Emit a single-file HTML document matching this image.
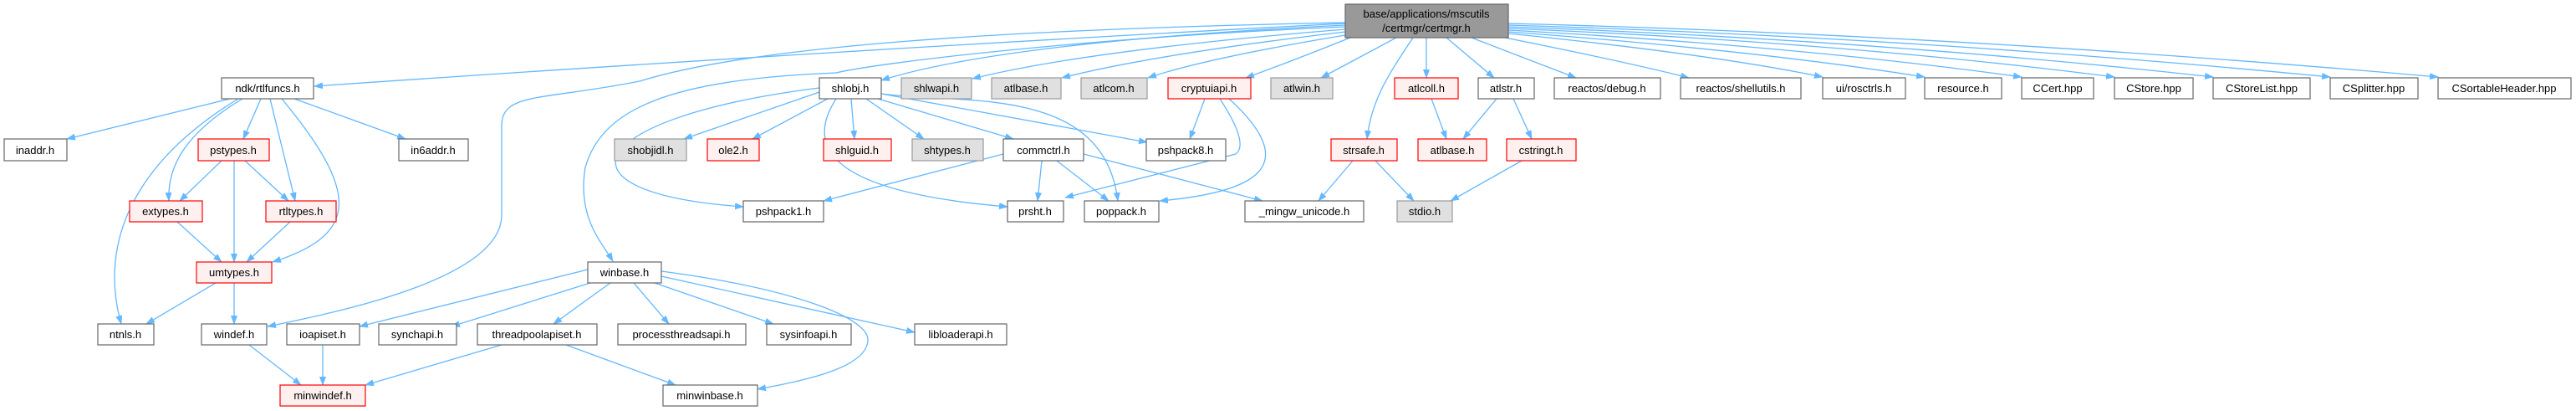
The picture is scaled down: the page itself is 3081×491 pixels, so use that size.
<!DOCTYPE html>
<html><head><meta charset="utf-8"><style>
html,body{margin:0;padding:0;background:#fff;}
svg{display:block;}
text{font-family:"Liberation Sans",sans-serif;font-size:13px;fill:#000;text-anchor:middle;}
.n{fill:#fff;stroke:#666;stroke-width:1.2}
.g{fill:#e0e0e0;stroke:#999;stroke-width:1.2}
.r{fill:#fff0f0;stroke:#f00;stroke-width:1.2}
.rt{fill:#999;stroke:#666;stroke-width:1.2}
path{fill:none;stroke:#63b8ff;stroke-width:1.3;marker-end:url(#a)}
</style></head><body>
<svg width="3081" height="491" viewBox="0 0 3081 491" xmlns="http://www.w3.org/2000/svg">
<defs><marker id="a" markerWidth="11" markerHeight="8" refX="10" refY="4" orient="auto" markerUnits="userSpaceOnUse"><polygon points="0,0 11,4 0,8" fill="#63b8ff"/></marker></defs>
<!-- root edges -->
<path d="M1609,28 Q1000,60 376,103"/>
<path d="M1609,27 C1200,35 900,55 765,97 C650,120 600,110 600,150 L600,257 C600,330 420,370 320,390"/>
<path d="M1609,32 C1300,45 1050,75 1000,87 C800,95 720,130 700,200 C690,260 720,290 733,312"/>
<path d="M1609,30 Q1200,50 1054,96"/>
<path d="M1609,35 Q1300,60 1163,94"/>
<path d="M1609,38 Q1380,65 1270,93"/>
<path d="M1609,42 Q1440,70 1373,93"/>
<path d="M1615,45 Q1540,75 1490,93"/>
<path d="M1670,45 L1580,93"/>
<path d="M1690,45 C1660,90 1640,120 1635,166"/>
<path d="M1706,45 L1706,93"/>
<path d="M1730,45 L1787,93"/>
<path d="M1760,45 L1885,93"/>
<path d="M1800,45 Q1950,75 2020,93"/>
<path d="M1804,40 Q2050,65 2180,92"/>
<path d="M1804,38 Q2100,60 2302,92"/>
<path d="M1804,36 Q2150,55 2418,92"/>
<path d="M1804,34 Q2200,50 2529,92"/>
<path d="M1804,32 Q2250,48 2647,92"/>
<path d="M1804,30 Q2300,45 2787,92"/>
<path d="M1804,28 Q2350,42 2916,92"/>
<!-- ndk -->
<path d="M275,118 L80,166"/>
<path d="M312,118 L291,166"/>
<path d="M323,118 L353,240"/>
<path d="M352,118 L485,166"/>
<path d="M290,118 C220,160 200,200 202,240"/>
<path d="M337,118 C430,230 430,280 326,313"/>
<path d="M285,118 C150,200 120,300 145,387"/>
<path d="M265,192 L215,240"/>
<path d="M280,192 L280,313"/>
<path d="M293,192 L345,240"/>
<path d="M212,265 L265,313"/>
<path d="M347,265 L295,313"/>
<path d="M258,338 L175,387"/>
<path d="M280,338 L280,387"/>
<path d="M298,412 L360,460"/>
<path d="M386,412 L386,460"/>
<path d="M600,412 L437,460"/>
<path d="M677,412 L808,460"/>
<!-- winbase -->
<path d="M703,322 L430,390"/>
<path d="M706,338 L540,390"/>
<path d="M730,338 L662,387"/>
<path d="M758,338 L800,387"/>
<path d="M783,338 L925,387"/>
<path d="M791,330 L1094,397"/>
<path d="M791,324 C950,345 1040,380 1038,407 C1036,440 960,455 906,465"/>
<!-- shlobj -->
<path d="M980,110 L818,166"/>
<path d="M990,118 L900,166"/>
<path d="M1018,118 L1022,166"/>
<path d="M1036,118 L1105,166"/>
<path d="M1050,118 L1212,166"/>
<path d="M1054,112 L1372,170"/>
<path d="M1054,112 C1150,125 1320,100 1337,240"/>
<path d="M980,105 C700,140 650,230 889,247"/>
<path d="M1000,118 C960,180 1000,230 1205,247"/>
<path d="M1200,184 L985,240"/>
<path d="M1246,192 L1241,240"/>
<path d="M1264,192 L1326,240"/>
<path d="M1296,184 L1510,240"/>
<path d="M1441,118 L1423,166"/>
<path d="M1459,118 C1480,150 1490,175 1478,184 L1274,236"/>
<path d="M1470,118 C1560,200 1500,230 1387,240"/>
<path d="M1712,118 L1730,166"/>
<path d="M1790,118 L1750,166"/>
<path d="M1810,118 L1832,166"/>
<path d="M1618,192 L1577,240"/>
<path d="M1645,192 L1691,240"/>
<path d="M1820,192 L1735,240"/>
<!-- nodes -->
<rect class="rt" x="1609" y="5" width="195" height="40"/><text x="1706" y="21">base/applications/mscutils</text><text x="1706" y="38">/certmgr/certmgr.h</text>
<g>
<rect class="n" x="265" y="93" width="110" height="25"/><text x="320" y="110">ndk/rtlfuncs.h</text>
<rect class="n" x="980" y="93" width="74" height="25"/><text x="1017" y="110">shlobj.h</text>
<rect class="g" x="1078" y="93" width="84" height="25"/><text x="1120" y="110">shlwapi.h</text>
<rect class="g" x="1186" y="93" width="83" height="25"/><text x="1227" y="110">atlbase.h</text>
<rect class="g" x="1293" y="93" width="79" height="25"/><text x="1332" y="110">atlcom.h</text>
<rect class="r" x="1397" y="93" width="99" height="25"/><text x="1446" y="110">cryptuiapi.h</text>
<rect class="g" x="1520" y="93" width="74" height="25"/><text x="1557" y="110">atlwin.h</text>
<rect class="r" x="1668" y="93" width="76" height="25"/><text x="1706" y="110">atlcoll.h</text>
<rect class="n" x="1768" y="93" width="67" height="25"/><text x="1801" y="110">atlstr.h</text>
<rect class="n" x="1859" y="93" width="127" height="25"/><text x="1922" y="110">reactos/debug.h</text>
<rect class="n" x="2010" y="93" width="144" height="25"/><text x="2082" y="110">reactos/shellutils.h</text>
<rect class="n" x="2180" y="93" width="99" height="25"/><text x="2229" y="110">ui/rosctrls.h</text>
<rect class="n" x="2302" y="93" width="92" height="25"/><text x="2348" y="110">resource.h</text>
<rect class="n" x="2418" y="93" width="86" height="25"/><text x="2461" y="110">CCert.hpp</text>
<rect class="n" x="2529" y="93" width="94" height="25"/><text x="2576" y="110">CStore.hpp</text>
<rect class="n" x="2647" y="93" width="116" height="25"/><text x="2705" y="110">CStoreList.hpp</text>
<rect class="n" x="2787" y="93" width="105" height="25"/><text x="2839" y="110">CSplitter.hpp</text>
<rect class="n" x="2916" y="93" width="159" height="25"/><text x="2995" y="110">CSortableHeader.hpp</text>

<rect class="n" x="5" y="166" width="75" height="26"/><text x="42" y="184">inaddr.h</text>
<rect class="r" x="237" y="166" width="85" height="26"/><text x="279" y="184">pstypes.h</text>
<rect class="n" x="477" y="166" width="83" height="26"/><text x="518" y="184">in6addr.h</text>
<rect class="g" x="735" y="166" width="86" height="26"/><text x="778" y="184">shobjidl.h</text>
<rect class="r" x="846" y="166" width="62" height="26"/><text x="877" y="184">ole2.h</text>
<rect class="r" x="985" y="166" width="81" height="26"/><text x="1025" y="184">shlguid.h</text>
<rect class="g" x="1091" y="166" width="85" height="26"/><text x="1133" y="184">shtypes.h</text>
<rect class="n" x="1200" y="166" width="96" height="26"/><text x="1248" y="184">commctrl.h</text>
<rect class="n" x="1371" y="166" width="95" height="26"/><text x="1418" y="184">pshpack8.h</text>
<rect class="r" x="1592" y="166" width="79" height="26"/><text x="1631" y="184">strsafe.h</text>
<rect class="r" x="1696" y="166" width="82" height="26"/><text x="1737" y="184">atlbase.h</text>
<rect class="r" x="1802" y="166" width="83" height="26"/><text x="1843" y="184">cstringt.h</text>

<rect class="r" x="155" y="240" width="87" height="25"/><text x="198" y="257">extypes.h</text>
<rect class="r" x="318" y="240" width="84" height="25"/><text x="360" y="257">rtltypes.h</text>
<rect class="n" x="889" y="240" width="96" height="25"/><text x="937" y="257">pshpack1.h</text>
<rect class="n" x="1205" y="240" width="67" height="25"/><text x="1238" y="257">prsht.h</text>
<rect class="n" x="1297" y="240" width="89" height="25"/><text x="1341" y="257">poppack.h</text>
<rect class="n" x="1489" y="240" width="142" height="25"/><text x="1560" y="257">_mingw_unicode.h</text>
<rect class="g" x="1671" y="240" width="66" height="25"/><text x="1704" y="257">stdio.h</text>

<rect class="r" x="235" y="313" width="90" height="25"/><text x="280" y="330">umtypes.h</text>
<rect class="n" x="703" y="313" width="88" height="25"/><text x="747" y="330">winbase.h</text>

<rect class="n" x="117" y="387" width="67" height="25"/><text x="150" y="404">ntnls.h</text>
<rect class="n" x="241" y="387" width="78" height="25"/><text x="280" y="404">windef.h</text>
<rect class="n" x="343" y="387" width="87" height="25"/><text x="386" y="404">ioapiset.h</text>
<rect class="n" x="453" y="387" width="93" height="25"/><text x="499" y="404">synchapi.h</text>
<rect class="n" x="571" y="387" width="143" height="25"/><text x="642" y="404">threadpoolapiset.h</text>
<rect class="n" x="739" y="387" width="153" height="25"/><text x="815" y="404">processthreadsapi.h</text>
<rect class="n" x="917" y="387" width="101" height="25"/><text x="967" y="404">sysinfoapi.h</text>
<rect class="n" x="1094" y="387" width="110" height="25"/><text x="1149" y="404">libloaderapi.h</text>

<rect class="r" x="335" y="460" width="102" height="25"/><text x="386" y="477">minwindef.h</text>
<rect class="n" x="793" y="460" width="113" height="25"/><text x="849" y="477">minwinbase.h</text>
</g>
</svg>
</body></html>
